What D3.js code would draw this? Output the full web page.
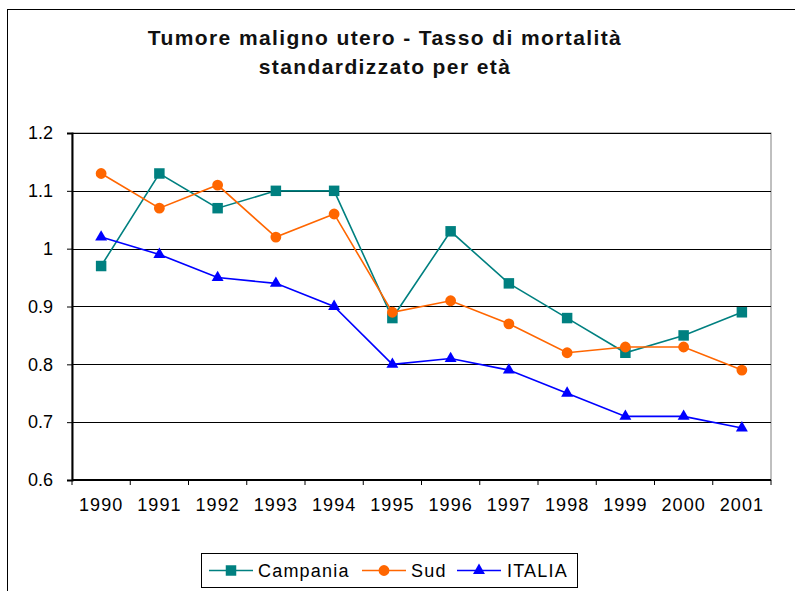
<!DOCTYPE html>
<html lang="en">
<head>
<meta charset="UTF-8">
<title>Tumore maligno utero</title>
<style>
  body { margin:0; background:#fff; }
  svg { display:block; font-family: Arial, "Liberation Sans", sans-serif; }
</style>
</head>
<body>
<svg width="795" height="591"></svg>
<script src="https://cdnjs.cloudflare.com/ajax/libs/d3/7.8.5/d3.min.js"></script>
<script>
const years = ["1990","1991","1992","1993","1994","1995","1996","1997","1998","1999","2000","2001"];
const campania = [0.97, 1.13, 1.07, 1.10, 1.10, 0.88, 1.03, 0.94, 0.88, 0.82, 0.85, 0.89];
const sud      = [1.13, 1.07, 1.11, 1.02, 1.06, 0.89, 0.91, 0.87, 0.82, 0.83, 0.83, 0.79];
const italia   = [1.02, 0.99, 0.95, 0.94, 0.90, 0.80, 0.81, 0.79, 0.75, 0.71, 0.71, 0.69];
const yTicks = [0.6, 0.7, 0.8, 0.9, 1.0, 1.1, 1.2];

const series = [
  {name: "Campania", values: campania, color: "#008080", symbol: d3.symbolSquare, size: 110},
  {name: "Sud", values: sud, color: "#FF6600", symbol: d3.symbolCircle, size: 92},
  {name: "ITALIA", values: italia, color: "#0000FF", symbol: d3.symbolTriangle, size: 62}
];

const svg = d3.select("svg");
const font = "Arial, 'Liberation Sans', sans-serif";
const plotL = 72, plotR = 771, plotT = 133, plotB = 480;

// outer chart frame (right and bottom edges fall outside the picture)
svg.append("rect")
  .attr("x", 7.5).attr("y", 9.5)
  .attr("width", 800).attr("height", 600)
  .attr("fill", "none").attr("stroke", "#000").attr("stroke-width", 1);

// title
const title = svg.append("text")
  .attr("text-anchor", "middle")
  .attr("font-family", font)
  .attr("font-weight", "bold")
  .attr("font-size", 21)
  .attr("letter-spacing", 1.4)
  .attr("fill", "#111");
title.append("tspan").attr("x", 385).attr("y", 45).text("Tumore maligno utero - Tasso di mortalità");
title.append("tspan").attr("x", 385).attr("y", 74).text("standardizzato per età");

const x = d3.scaleBand().domain(years).range([plotL, plotR]);
const y = d3.scaleLinear().domain([0.6, 1.2]).range([plotB, plotT]);

// plot area border (top/right gray)
svg.append("rect")
  .attr("x", plotL).attr("y", plotT)
  .attr("width", plotR - plotL).attr("height", plotB - plotT)
  .attr("fill", "none").attr("stroke", "#808080").attr("stroke-width", 1);

// gridlines
svg.append("g").selectAll("line")
  .data(yTicks.filter(d => d > 0.6))
  .join("line")
  .attr("x1", plotL).attr("x2", plotR)
  .attr("y1", d => Math.round(y(d)) + 0.5).attr("y2", d => Math.round(y(d)) + 0.5)
  .attr("stroke", "#000").attr("stroke-width", 1);

// y axis
const yAxis = svg.append("g")
  .attr("transform", `translate(${plotL},0)`)
  .call(d3.axisLeft(y).tickValues(yTicks).tickSize(5).tickPadding(14)
    .tickFormat(d => d === 1 ? "1" : d3.format(".1f")(d)));
yAxis.select(".domain").attr("stroke", "#000").attr("stroke-width", 2);
yAxis.selectAll("text").attr("font-size", 18).attr("fill", "#000")
  .attr("font-family", font);

// x axis with ticks at category boundaries
const xAxis = svg.append("g")
  .attr("transform", `translate(0,${plotB})`)
  .call(d3.axisBottom(x).tickSize(0).tickPadding(18));
xAxis.select(".domain").attr("stroke", "#000").attr("stroke-width", 2).attr("d", `M${plotL},0H${plotR}`);
xAxis.selectAll("text").attr("font-size", 18).attr("fill", "#000")
  .attr("letter-spacing", 1).attr("font-family", font);
xAxis.selectAll("line.bound")
  .data(years.concat(["end"]))
  .join("line").attr("class", "bound")
  .attr("x1", (d, i) => plotL + i * x.bandwidth())
  .attr("x2", (d, i) => plotL + i * x.bandwidth())
  .attr("y1", 0).attr("y2", 5)
  .attr("stroke", "#000");

// lines and markers
const line = d3.line()
  .x((d, i) => x(years[i]) + x.bandwidth() / 2)
  .y(d => y(d));

series.forEach(s => {
  svg.append("path")
    .attr("d", line(s.values))
    .attr("fill", "none")
    .attr("stroke", s.color)
    .attr("stroke-width", 1.6);
  svg.append("g").selectAll("path")
    .data(s.values)
    .join("path")
    .attr("transform", (d, i) => `translate(${x(years[i]) + x.bandwidth() / 2},${y(d)})`)
    .attr("d", d3.symbol().type(s.symbol).size(s.size))
    .attr("fill", s.color);
});

// legend
const lg = svg.append("g");
lg.append("rect")
  .attr("x", 201.5).attr("y", 553.5)
  .attr("width", 376).attr("height", 34)
  .attr("fill", "#fff").attr("stroke", "#000").attr("stroke-width", 1);
const legendX = [209, 362, 457];
const textX = [258, 411, 507];
series.forEach((s, i) => {
  const lx = legendX[i];
  lg.append("line")
    .attr("x1", lx).attr("x2", lx + 44)
    .attr("y1", 570.5).attr("y2", 570.5)
    .attr("stroke", s.color).attr("stroke-width", 1.5);
  lg.append("path")
    .attr("transform", `translate(${lx + 22},570.5)`)
    .attr("d", d3.symbol().type(s.symbol).size(s.size))
    .attr("fill", s.color);
  lg.append("text")
    .attr("x", textX[i]).attr("y", 576.5)
    .attr("font-family", font)
    .attr("font-size", 18)
    .attr("letter-spacing", 1.2)
    .attr("fill", "#000")
    .text(s.name);
});
</script>
</body>
</html>
